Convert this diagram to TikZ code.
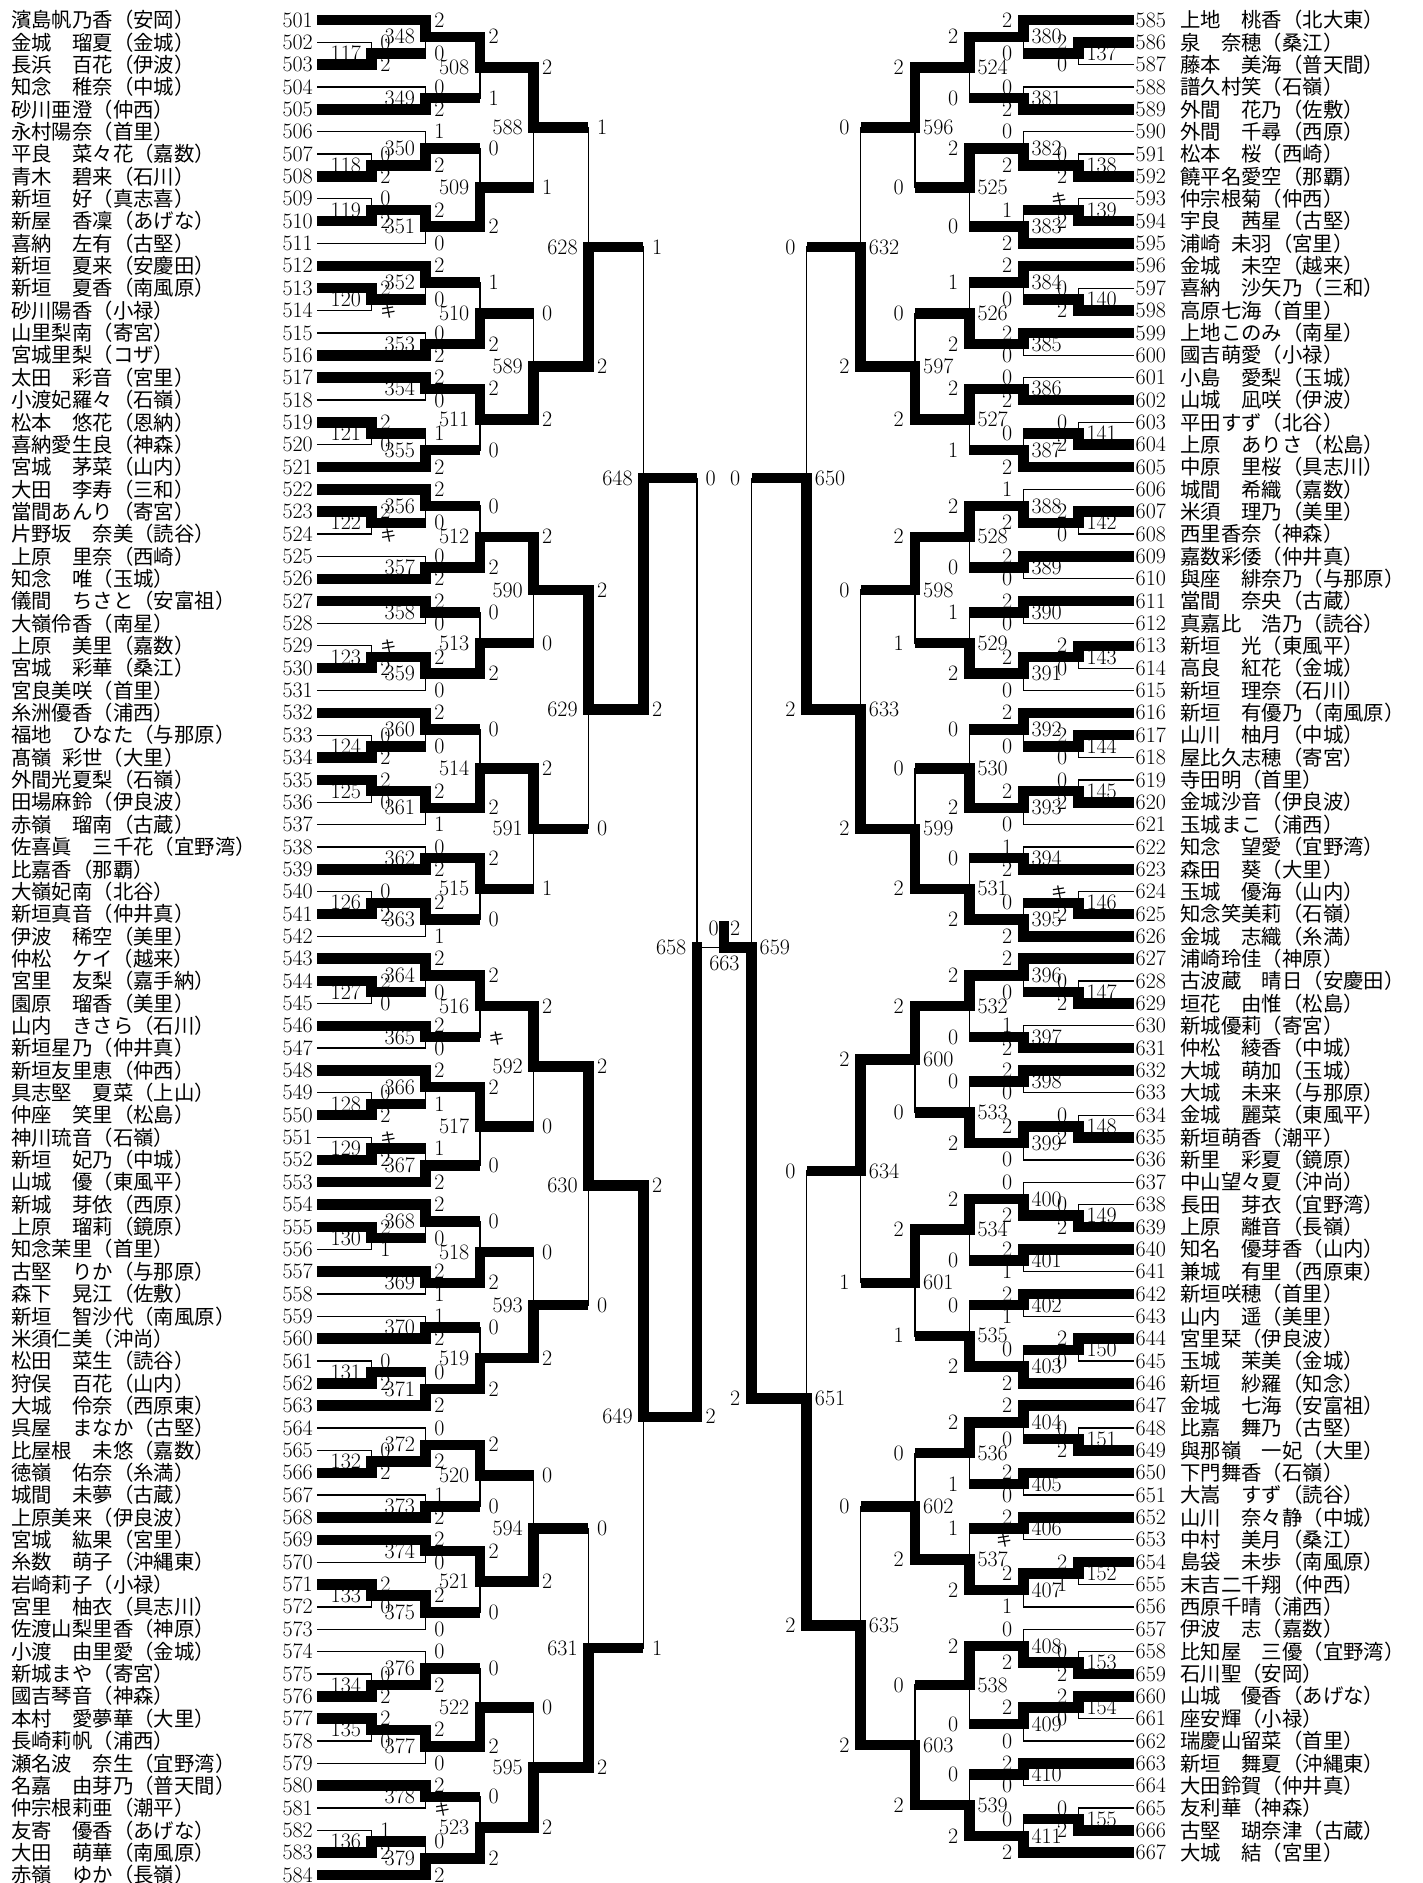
\documentclass[tikz,border=0pt]{standalone}
\usepackage{fontspec}
\newfontfamily\jp{Noto Sans CJK JP}
\newcommand\ki{{\jp\fontsize{16}{16}\selectfont キ}}
\newcommand\TW{10.5}
\newcommand\NW{1.3}
\tikzset{
  scr/.style={inner sep=0pt,font=\fontsize{22}{22}\selectfont,text height=14.2pt,text depth=0pt},
  nmst/.style={inner sep=0pt,font=\jp\fontsize{20.4}{20.4}\selectfont,text height=18.4pt,text depth=3pt}
}
% general match: #1 id, #2 bracket x, #3 top input, #4 bottom input, #5 top score, #6 bottom score, #7 winner (1 top, 2 bottom), #8 forced y (or empty)
\newcommand\mtx[8]{%
  \edef\yA{\csname by-#3\endcsname}%
  \edef\yB{\csname by-#4\endcsname}%
  \edef\pA{\csname bp-#3\endcsname}%
  \edef\pB{\csname bp-#4\endcsname}%
  \if\relax\detokenize{#8}\relax\pgfmathsetmacro\ym{(\yA+\yB)/2}\else\edef\ym{#8}\fi
  \expandafter\xdef\csname by-M#1\endcsname{\ym}%
  \expandafter\xdef\csname bp-M#1\endcsname{0}%
  \coordinate (M#1) at (#2,\ym);
  \ifnum#7=1 \let\wA\TW \ifnum\pB=1 \let\wB\NW\else\let\wB\TW\fi
  \else \let\wB\TW \ifnum\pA=1 \let\wA\NW\else\let\wA\TW\fi\fi
  \draw[line width=\wA] (#3) -- (#3 -| M#1);
  \draw[line width=\wB] (#4) -- (#4 -| M#1);
  \ifnum#7=1
    \draw[line width=\NW,line cap=rect] (M#1) -- (M#1 |- #4);
    \draw[line width=\TW,line cap=rect] (M#1) -- (M#1 |- #3);
  \else
    \draw[line width=\NW,line cap=rect] (M#1) -- (M#1 |- #3);
    \draw[line width=\TW,line cap=rect] (M#1) -- (M#1 |- #4);
  \fi
  \ifnum\sd=1
    \node[scr,anchor=west,xshift=8.5] (S#1a) at (M#1 |- #3) {#5};
    \node[scr,anchor=west,xshift=8.5] (S#1b) at (M#1 |- #4) {#6};
    \node[scr,anchor=east,xshift=-10.5] (L#1) at (M#1) {#1};
  \else
    \node[scr,anchor=east,xshift=-11] (S#1a) at (M#1 |- #3) {#5};
    \node[scr,anchor=east,xshift=-11] (S#1b) at (M#1 |- #4) {#6};
    \node[scr,anchor=west,xshift=8] (L#1) at (M#1) {#1};
  \fi
}
\newcommand\mt[7]{\mtx{#1}{#2}{#3}{#4}{#5}{#6}{#7}{}}
\begin{document}
\begin{tikzpicture}[x=1pt,y=-1pt]
\fill[white] (0,0) rectangle (1423,1883);
\useasboundingbox (0,0) rectangle (1423,1883);
% ---------- left players ----------
\foreach \nm [count=\k from 0] in {濱島帆乃香（安岡）,金城　瑠夏（金城）,長浜　百花（伊波）,知念　稚奈（中城）,砂川亜澄（仲西）,永村陽奈（首里）,平良　菜々花（嘉数）,青木　碧来（石川）,新垣　好（真志喜）,新屋　香凜（あげな）,喜納　左有（古堅）,新垣　夏来（安慶田）,新垣　夏香（南風原）,砂川陽香（小禄）,山里梨南（寄宮）,宮城里梨（コザ）,太田　彩音（宮里）,小渡妃羅々（石嶺）,松本　悠花（恩納）,喜納愛生良（神森）,宮城　茅菜（山内）,大田　李寿（三和）,當間あんり（寄宮）,片野坂　奈美（読谷）,上原　里奈（西崎）,知念　唯（玉城）,儀間　ちさと（安富祖）,大嶺伶香（南星）,上原　美里（嘉数）,宮城　彩華（桑江）,宮良美咲（首里）,糸洲優香（浦西）,福地　ひなた（与那原）,髙嶺\hspace{0.5em}彩世（大里）,外間光夏梨（石嶺）,田場麻鈴（伊良波）,赤嶺　瑠南（古蔵）,佐喜眞　三千花（宜野湾）,比嘉香（那覇）,大嶺妃南（北谷）,新垣真音（仲井真）,伊波　稀空（美里）,仲松　ケイ（越来）,宮里　友梨（嘉手納）,園原　瑠香（美里）,山内　きさら（石川）,新垣星乃（仲井真）,新垣友里恵（仲西）,具志堅　夏菜（上山）,仲座　笑里（松島）,神川琉音（石嶺）,新垣　妃乃（中城）,山城　優（東風平）,新城　芽依（西原）,上原　瑠莉（鏡原）,知念茉里（首里）,古堅　りか（与那原）,森下　晃江（佐敷）,新垣　智沙代（南風原）,米須仁美（沖尚）,松田　菜生（読谷）,狩俣　百花（山内）,大城　伶奈（西原東）,呉屋　まなか（古堅）,比屋根　未悠（嘉数）,徳嶺　佑奈（糸満）,城間　未夢（古蔵）,上原美来（伊良波）,宮城　紘果（宮里）,糸数　萌子（沖縄東）,岩崎莉子（小禄）,宮里　柚衣（具志川）,佐渡山梨里香（神原）,小渡　由里愛（金城）,新城まや（寄宮）,國吉琴音（神森）,本村　愛夢華（大里）,長崎莉帆（浦西）,瀬名波　奈生（宜野湾）,名嘉　由芽乃（普天間）,仲宗根莉亜（潮平）,友寄　優香（あげな）,大田　萌華（南風原）,赤嶺　ゆか（長嶺）}{%
  \pgfmathsetmacro\yy{20+22.35*\k}%
  \pgfmathtruncatemacro\num{501+\k}%
  \node[nmst,anchor=west] (N\num) at (11,\yy) {\nm};
  \node[scr,anchor=east] (T\num) at (313,\yy) {\num};
  \coordinate (P\num) at (317,\yy);
  \expandafter\xdef\csname by-P\num\endcsname{\yy}%
  \expandafter\xdef\csname bp-P\num\endcsname{1}%
}
% ---------- right players ----------
\foreach \nm [count=\k from 0] in {上地　桃香（北大東）,泉　奈穂（桑江）,藤本　美海（普天間）,譜久村笑（石嶺）,外間　花乃（佐敷）,外間　千尋（西原）,松本　桜（西崎）,饒平名愛空（那覇）,仲宗根菊（仲西）,宇良　茜星（古堅）,浦崎\hspace{0.5em}未羽（宮里）,金城　未空（越来）,喜納　沙矢乃（三和）,高原七海（首里）,上地このみ（南星）,國吉萌愛（小禄）,小島　愛梨（玉城）,山城　凪咲（伊波）,平田すず（北谷）,上原　ありさ（松島）,中原　里桜（具志川）,城間　希織（嘉数）,米須　理乃（美里）,西里香奈（神森）,嘉数彩倭（仲井真）,與座　緋奈乃（与那原）,當間　奈央（古蔵）,真嘉比　浩乃（読谷）,新垣　光（東風平）,高良　紅花（金城）,新垣　理奈（石川）,新垣　有優乃（南風原）,山川　柚月（中城）,屋比久志穂（寄宮）,寺田明（首里）,金城沙音（伊良波）,玉城まこ（浦西）,知念　望愛（宜野湾）,森田　葵（大里）,玉城　優海（山内）,知念笑美莉（石嶺）,金城　志織（糸満）,浦崎玲佳（神原）,古波蔵　晴日（安慶田）,垣花　由惟（松島）,新城優莉（寄宮）,仲松　綾香（中城）,大城　萌加（玉城）,大城　未来（与那原）,金城　麗菜（東風平）,新垣萌香（潮平）,新里　彩夏（鏡原）,中山望々夏（沖尚）,長田　芽衣（宜野湾）,上原　離音（長嶺）,知名　優芽香（山内）,兼城　有里（西原東）,新垣咲穂（首里）,山内　遥（美里）,宮里栞（伊良波）,玉城　茉美（金城）,新垣　紗羅（知念）,金城　七海（安富祖）,比嘉　舞乃（古堅）,與那嶺　一妃（大里）,下門舞香（石嶺）,大嵩　すず（読谷）,山川　奈々静（中城）,中村　美月（桑江）,島袋　未歩（南風原）,末吉二千翔（仲西）,西原千晴（浦西）,伊波　志（嘉数）,比知屋　三優（宜野湾）,石川聖（安岡）,山城　優香（あげな）,座安輝（小禄）,瑞慶山留菜（首里）,新垣　舞夏（沖縄東）,大田鈴賀（仲井真）,友利華（神森）,古堅　瑚奈津（古蔵）,大城　結（宮里）}{%
  \pgfmathsetmacro\yy{20+22.35*\k}%
  \pgfmathtruncatemacro\num{585+\k}%
  \node[nmst,anchor=west] (N\num) at (1180,\yy) {\nm};
  \node[scr,anchor=west] (T\num) at (1135.5,\yy) {\num};
  \coordinate (P\num) at (1134,\yy);
  \expandafter\xdef\csname by-P\num\endcsname{\yy}%
  \expandafter\xdef\csname bp-P\num\endcsname{1}%
}
% ---------- left bracket ----------
\def\sd{1}
\def\cA{371.7}\def\cB{425.7}\def\cC{480}\def\cD{533.5}\def\cE{588.3}\def\cF{643.3}\def\cG{697}
\mt{117}{\cA}{P502}{P503}{0}{2}{2}
\mt{118}{\cA}{P507}{P508}{0}{2}{2}
\mt{119}{\cA}{P509}{P510}{0}{2}{2}
\mt{120}{\cA}{P513}{P514}{2}{\ki}{1}
\mt{121}{\cA}{P519}{P520}{2}{0}{1}
\mt{122}{\cA}{P523}{P524}{2}{\ki}{1}
\mt{123}{\cA}{P529}{P530}{\ki}{2}{2}
\mt{124}{\cA}{P533}{P534}{0}{2}{2}
\mt{125}{\cA}{P535}{P536}{2}{0}{1}
\mt{126}{\cA}{P540}{P541}{0}{2}{2}
\mt{127}{\cA}{P544}{P545}{2}{0}{1}
\mt{128}{\cA}{P549}{P550}{0}{2}{2}
\mt{129}{\cA}{P551}{P552}{\ki}{2}{2}
\mt{130}{\cA}{P555}{P556}{2}{1}{1}
\mt{131}{\cA}{P561}{P562}{0}{2}{2}
\mt{132}{\cA}{P565}{P566}{0}{2}{2}
\mt{133}{\cA}{P571}{P572}{2}{0}{1}
\mt{134}{\cA}{P575}{P576}{0}{2}{2}
\mt{135}{\cA}{P577}{P578}{2}{0}{1}
\mt{136}{\cA}{P582}{P583}{1}{2}{2}
\mt{348}{\cB}{P501}{M117}{2}{0}{1}
\mt{349}{\cB}{P504}{P505}{0}{2}{2}
\mt{350}{\cB}{P506}{M118}{1}{2}{2}
\mt{351}{\cB}{M119}{P511}{2}{0}{1}
\mt{352}{\cB}{P512}{M120}{2}{0}{1}
\mt{353}{\cB}{P515}{P516}{0}{2}{2}
\mt{354}{\cB}{P517}{P518}{2}{0}{1}
\mt{355}{\cB}{M121}{P521}{1}{2}{2}
\mt{356}{\cB}{P522}{M122}{2}{0}{1}
\mt{357}{\cB}{P525}{P526}{0}{2}{2}
\mt{358}{\cB}{P527}{P528}{2}{0}{1}
\mt{359}{\cB}{M123}{P531}{2}{0}{1}
\mt{360}{\cB}{P532}{M124}{2}{0}{1}
\mt{361}{\cB}{M125}{P537}{2}{1}{1}
\mt{362}{\cB}{P538}{P539}{0}{2}{2}
\mt{363}{\cB}{M126}{P542}{2}{1}{1}
\mt{364}{\cB}{P543}{M127}{2}{0}{1}
\mt{365}{\cB}{P546}{P547}{2}{0}{1}
\mt{366}{\cB}{P548}{M128}{2}{1}{1}
\mt{367}{\cB}{M129}{P553}{1}{2}{2}
\mt{368}{\cB}{P554}{M130}{2}{0}{1}
\mt{369}{\cB}{P557}{P558}{2}{1}{1}
\mt{370}{\cB}{P559}{P560}{1}{2}{2}
\mt{371}{\cB}{M131}{P563}{0}{2}{2}
\mt{372}{\cB}{P564}{M132}{0}{2}{2}
\mt{373}{\cB}{P567}{P568}{1}{2}{2}
\mt{374}{\cB}{P569}{P570}{2}{0}{1}
\mt{375}{\cB}{M133}{P573}{2}{0}{1}
\mt{376}{\cB}{P574}{M134}{0}{2}{2}
\mt{377}{\cB}{M135}{P579}{2}{0}{1}
\mt{378}{\cB}{P580}{P581}{2}{\ki}{1}
\mt{379}{\cB}{M136}{P584}{0}{2}{2}
\mt{508}{\cC}{M348}{M349}{2}{1}{1}
\mt{509}{\cC}{M350}{M351}{0}{2}{2}
\mt{510}{\cC}{M352}{M353}{1}{2}{2}
\mt{511}{\cC}{M354}{M355}{2}{0}{1}
\mt{512}{\cC}{M356}{M357}{0}{2}{2}
\mt{513}{\cC}{M358}{M359}{0}{2}{2}
\mt{514}{\cC}{M360}{M361}{0}{2}{2}
\mt{515}{\cC}{M362}{M363}{2}{0}{1}
\mt{516}{\cC}{M364}{M365}{2}{\ki}{1}
\mt{517}{\cC}{M366}{M367}{2}{0}{1}
\mt{518}{\cC}{M368}{M369}{0}{2}{2}
\mt{519}{\cC}{M370}{M371}{0}{2}{2}
\mt{520}{\cC}{M372}{M373}{2}{0}{1}
\mt{521}{\cC}{M374}{M375}{2}{0}{1}
\mt{522}{\cC}{M376}{M377}{0}{2}{2}
\mt{523}{\cC}{M378}{M379}{0}{2}{2}
\mt{588}{\cD}{M508}{M509}{2}{1}{1}
\mt{589}{\cD}{M510}{M511}{0}{2}{2}
\mt{590}{\cD}{M512}{M513}{2}{0}{1}
\mt{591}{\cD}{M514}{M515}{2}{1}{1}
\mt{592}{\cD}{M516}{M517}{2}{0}{1}
\mt{593}{\cD}{M518}{M519}{0}{2}{2}
\mt{594}{\cD}{M520}{M521}{0}{2}{2}
\mt{595}{\cD}{M522}{M523}{0}{2}{2}
\mt{628}{\cE}{M588}{M589}{1}{2}{2}
\mt{629}{\cE}{M590}{M591}{2}{0}{1}
\mt{630}{\cE}{M592}{M593}{2}{0}{1}
\mt{631}{\cE}{M594}{M595}{0}{2}{2}
\mt{648}{\cF}{M628}{M629}{1}{2}{2}
\mt{649}{\cF}{M630}{M631}{2}{1}{1}
\mt{658}{\cG}{M648}{M649}{0}{2}{2}
% ---------- right bracket ----------
\def\sd{-1}
\def\cA{1078.3}\def\cB{1023.3}\def\cC{969.3}\def\cD{915}\def\cE{860.7}\def\cF{806.7}\def\cG{751.5}
\mt{137}{\cA}{P586}{P587}{2}{0}{1}
\mt{138}{\cA}{P591}{P592}{0}{2}{2}
\mt{139}{\cA}{P593}{P594}{\ki}{2}{2}
\mt{140}{\cA}{P597}{P598}{0}{2}{2}
\mt{141}{\cA}{P603}{P604}{0}{2}{2}
\mt{142}{\cA}{P607}{P608}{2}{0}{1}
\mt{143}{\cA}{P613}{P614}{2}{0}{1}
\mt{144}{\cA}{P617}{P618}{2}{0}{1}
\mt{145}{\cA}{P619}{P620}{0}{2}{2}
\mt{146}{\cA}{P624}{P625}{\ki}{2}{2}
\mt{147}{\cA}{P628}{P629}{0}{2}{2}
\mt{148}{\cA}{P634}{P635}{0}{2}{2}
\mt{149}{\cA}{P638}{P639}{0}{2}{2}
\mt{150}{\cA}{P644}{P645}{2}{0}{1}
\mt{151}{\cA}{P648}{P649}{0}{2}{2}
\mt{152}{\cA}{P654}{P655}{2}{1}{1}
\mt{153}{\cA}{P658}{P659}{0}{2}{2}
\mt{154}{\cA}{P660}{P661}{2}{0}{1}
\mt{155}{\cA}{P665}{P666}{0}{2}{2}
\mt{380}{\cB}{P585}{M137}{2}{0}{1}
\mt{381}{\cB}{P588}{P589}{0}{2}{2}
\mt{382}{\cB}{P590}{M138}{0}{2}{2}
\mt{383}{\cB}{M139}{P595}{1}{2}{2}
\mt{384}{\cB}{P596}{M140}{2}{0}{1}
\mt{385}{\cB}{P599}{P600}{2}{0}{1}
\mt{386}{\cB}{P601}{P602}{0}{2}{2}
\mt{387}{\cB}{M141}{P605}{0}{2}{2}
\mt{388}{\cB}{P606}{M142}{1}{2}{2}
\mt{389}{\cB}{P609}{P610}{2}{0}{1}
\mt{390}{\cB}{P611}{P612}{2}{0}{1}
\mt{391}{\cB}{M143}{P615}{2}{0}{1}
\mt{392}{\cB}{P616}{M144}{2}{0}{1}
\mt{393}{\cB}{M145}{P621}{2}{0}{1}
\mt{394}{\cB}{P622}{P623}{1}{2}{2}
\mt{395}{\cB}{M146}{P626}{0}{2}{2}
\mt{396}{\cB}{P627}{M147}{2}{0}{1}
\mt{397}{\cB}{P630}{P631}{1}{2}{2}
\mt{398}{\cB}{P632}{P633}{2}{0}{1}
\mt{399}{\cB}{M148}{P636}{2}{0}{1}
\mt{400}{\cB}{P637}{M149}{0}{2}{2}
\mt{401}{\cB}{P640}{P641}{2}{1}{1}
\mt{402}{\cB}{P642}{P643}{2}{1}{1}
\mt{403}{\cB}{M150}{P646}{0}{2}{2}
\mt{404}{\cB}{P647}{M151}{2}{0}{1}
\mt{405}{\cB}{P650}{P651}{2}{0}{1}
\mt{406}{\cB}{P652}{P653}{2}{\ki}{1}
\mt{407}{\cB}{M152}{P656}{2}{1}{1}
\mt{408}{\cB}{P657}{M153}{0}{2}{2}
\mt{409}{\cB}{M154}{P662}{2}{0}{1}
\mt{410}{\cB}{P663}{P664}{2}{0}{1}
\mt{411}{\cB}{M155}{P667}{0}{2}{2}
\mt{524}{\cC}{M380}{M381}{2}{0}{1}
\mt{525}{\cC}{M382}{M383}{2}{0}{1}
\mt{526}{\cC}{M384}{M385}{1}{2}{2}
\mt{527}{\cC}{M386}{M387}{2}{1}{1}
\mt{528}{\cC}{M388}{M389}{2}{0}{1}
\mt{529}{\cC}{M390}{M391}{1}{2}{2}
\mt{530}{\cC}{M392}{M393}{0}{2}{2}
\mt{531}{\cC}{M394}{M395}{0}{2}{2}
\mt{532}{\cC}{M396}{M397}{2}{0}{1}
\mt{533}{\cC}{M398}{M399}{0}{2}{2}
\mt{534}{\cC}{M400}{M401}{2}{0}{1}
\mt{535}{\cC}{M402}{M403}{0}{2}{2}
\mt{536}{\cC}{M404}{M405}{2}{1}{1}
\mt{537}{\cC}{M406}{M407}{1}{2}{2}
\mt{538}{\cC}{M408}{M409}{2}{0}{1}
\mt{539}{\cC}{M410}{M411}{0}{2}{2}
\mt{596}{\cD}{M524}{M525}{2}{0}{1}
\mt{597}{\cD}{M526}{M527}{0}{2}{2}
\mt{598}{\cD}{M528}{M529}{2}{1}{1}
\mt{599}{\cD}{M530}{M531}{0}{2}{2}
\mt{600}{\cD}{M532}{M533}{2}{0}{1}
\mt{601}{\cD}{M534}{M535}{2}{1}{1}
\mt{602}{\cD}{M536}{M537}{0}{2}{2}
\mt{603}{\cD}{M538}{M539}{0}{2}{2}
\mt{632}{\cE}{M596}{M597}{0}{2}{2}
\mt{633}{\cE}{M598}{M599}{0}{2}{2}
\mt{634}{\cE}{M600}{M601}{2}{1}{1}
\mt{635}{\cE}{M602}{M603}{0}{2}{2}
\mt{650}{\cF}{M632}{M633}{0}{2}{2}
\mt{651}{\cF}{M634}{M635}{0}{2}{2}
\edef\yf{\csname by-M658\endcsname}
\mtx{659}{\cG}{M650}{M651}{0}{2}{2}{\yf}
% ---------- final ----------
\coordinate (F663) at (724.4,\yf);
\draw[line width=\NW] (M658) -- ([xshift=-5]F663);
\draw[line width=\TW] (M659) -- ([xshift=-5]F663);
\draw[line width=10] ([yshift=-5.25]F663) -- ([yshift=26.5]F663);
\node[scr,anchor=east] (S663a) at ([xshift=-5.5,yshift=19.5]F663) {0};
\node[scr,anchor=west] (S663b) at ([xshift=5.5,yshift=19.5]F663) {2};
\node[scr] (L663) at ([yshift=-16]F663) {663};
\end{tikzpicture}
\end{document}
